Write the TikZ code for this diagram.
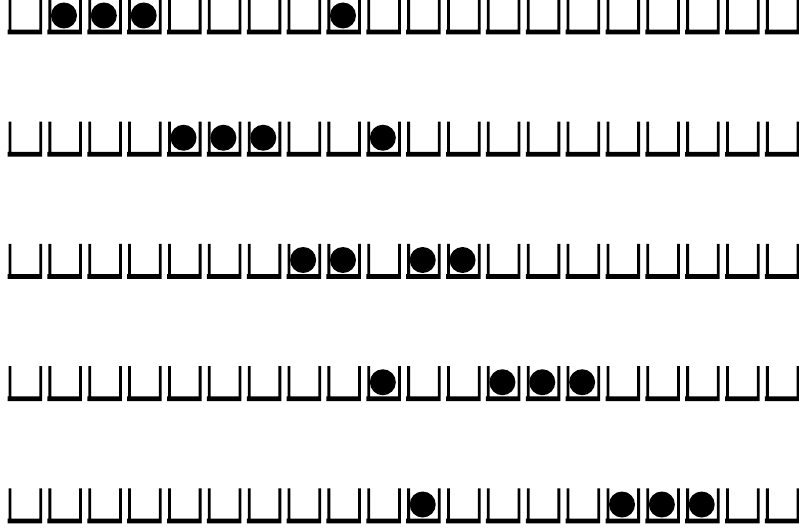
\documentclass[tikz,border=0pt]{standalone}
\usepackage{tikz}

\begin{document}
\begin{tikzpicture}[
		x=1pt, y=-1pt,
		cup/.style={fill=black},
		ball/.style={circle, fill=black, inner sep=0pt, minimum size=26pt}
	]
		\useasboundingbox (0,0) rectangle (799,529);
		% twenty cups in each of five rows
		\foreach \r in {0,...,4} {
			\foreach \c in {0,...,19} {
				\pgfmathsetmacro{\xl}{8.6+39.86*\c}
				\pgfmathsetmacro{\yb}{34.3+122.25*\r}
				\fill[cup] (\xl,\yb-35) -- (\xl,\yb-4.6) -- (\xl-1,\yb-4.6) -- (\xl-1,\yb) -- (\xl+33.5,\yb) -- (\xl+33.5,\yb-35)
					-- (\xl+30.7,\yb-35) -- (\xl+30.7,\yb-4.6) -- (\xl+2.8,\yb-4.6) -- (\xl+2.8,\yb-35) -- cycle;
			}
		}
		% balls, given as row/cups
		\foreach \r/\cups in {0/{1,2,3,8}, 1/{4,5,6,9}, 2/{7,8,10,11}, 3/{9,12,13,14}, 4/{10,15,16,17}} {
			\foreach \c in \cups {
				\node[ball] (ball-\r-\c) at ({8.6+39.86*\c+15.5}, {15.5+122.25*\r}) {};
			}
		}
	\end{tikzpicture}
\end{document}
